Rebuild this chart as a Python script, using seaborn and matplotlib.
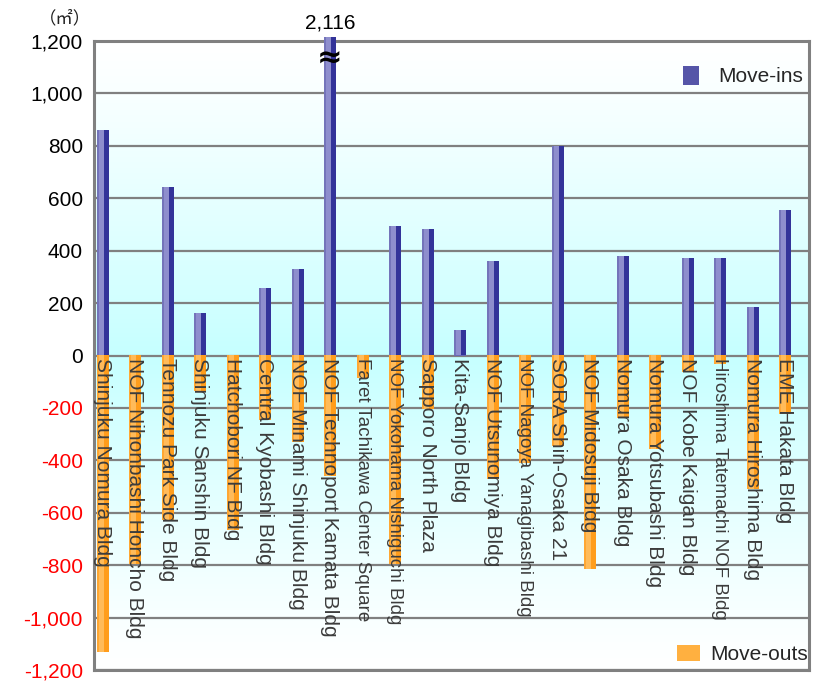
import numpy as np
import pandas as pd
import matplotlib
matplotlib.use("Agg")
import matplotlib.pyplot as plt
import seaborn as sns
from matplotlib.colors import to_rgb
from matplotlib.patches import Patch

# ---------------- data ----------------
buildings = [
    "Shinjuku Nomura Bldg", "NOF Nihonbashi Honcho Bldg", "Tennozu Park Side Bldg",
    "Shinjuku Sanshin Bldg", "Hatchobori NF Bldg", "Central Kyobashi Bldg",
    "NOF Minami Shinjuku Bldg", "NOF Technoport Kamata Bldg", "Faret Tachikawa Center Square",
    "NOF Yokohama Nishiguchi Bldg", "Sapporo North Plaza", "Kita-Sanjo Bldg",
    "NOF Utsunomiya Bldg", "NOF Nagoya Yanagibashi Bldg", "SORA Shin-Osaka 21",
    "NOF Midosuji Bldg", "Nomura Osaka Bldg", "Nomura Yotsubashi Bldg",
    "NOF Kobe Kaigan Bldg", "Hiroshima Tatemachi NOF Bldg", "Nomura Hiroshima Bldg",
    "EME Hakata Bldg",
]
move_ins = [855, 0, 641, 159, 0, 252, 325, 2116, 0, 489, 478, 92,
            355, 0, 795, 0, 374, 0, 367, 367, 183, 550]
move_outs = [-1130, -795, -629, -136, -664, -245, -330, -460, -86, -794, -206, 0,
             -470, -409, -347, -816, -240, -358, -63, -32, -510, -225]
series_names = ["Move-ins", "Move-outs"]
y_ticks = [-1200, -1000, -800, -600, -400, -200, 0, 200, 400, 600, 800, 1000, 1200]
y_tick_labels = ["-1,200", "-1,000", "-800", "-600", "-400", "-200", "0",
                 "200", "400", "600", "800", "1,000", "1,200"]
broken_value_label = "2,116"
unit_label = "（㎡）"

df = pd.DataFrame({"building": buildings, "in": move_ins, "out": move_outs})

# ---------------- style ----------------
sns.set_theme(style="white")
plt.rcParams["font.family"] = ["Liberation Sans", "DejaVu Sans"]

fig = plt.figure(figsize=(8.23, 6.81), dpi=100)
ax = fig.add_axes([94 / 823, 1 - 670 / 681, 715 / 823, 629 / 681])

BLUE_BASE = "#6a6ab4"
ORANGE_BASE = "#ffa733"
blue_grad = ["#7474ba", "#7474ba", "#8e8ecd", "#8e8ecd", "#8e8ecd", "#8e8ecd",
             "#333399", "#333399", "#333399", "#333399"]
orange_grad = ["#ffa733", "#ffa733", "#ffbb5a", "#ffbb5a", "#ffbb5a", "#ffbb5a",
               "#ff9d1c", "#ff9d1c", "#ff9d1c", "#ff9d1c"]

YMIN, YMAX = -1200, 1200

sns.barplot(data=df, x="building", y="in", order=buildings, color=BLUE_BASE,
            width=0.35, errorbar=None, ax=ax, saturation=1)
n_in = len(ax.patches)
sns.barplot(data=df, x="building", y="out", order=buildings, color=ORANGE_BASE,
            width=0.35, errorbar=None, ax=ax, saturation=1)

# gradient fill over each bar (limited to the visible range of the axis)
for k, p in enumerate(ax.patches):
    grad = blue_grad if k < n_in else orange_grad
    arr = np.array([[to_rgb(c) for c in grad]])
    x0, w = p.get_x(), p.get_width()
    y0, h = p.get_y(), p.get_height()
    p.set_zorder(2 if k < n_in else 3)
    p.set_edgecolor("none")
    if h == 0:
        continue
    lo = max(min(y0, y0 + h), YMIN)
    hi = min(max(y0, y0 + h), YMAX + 10)
    ax.imshow(arr, extent=[x0, x0 + w, lo, hi], aspect="auto",
              interpolation="nearest", zorder=p.get_zorder() + 0.1,
              clip_on=False)

# background vertical gradient (white -> cyan at zero -> white)
yy = np.linspace(0, 1, 256)
t = 1 - np.abs(yy - 0.5) / 0.5
top = np.array(to_rgb("#ffffff"))
mid = np.array(to_rgb("#c6ffff"))
bg = top[None, :] + (mid - top)[None, :] * t[:, None] ** 1.2
ax.imshow(bg[:, None, :], extent=[0, 1, 0, 1], transform=ax.transAxes,
          aspect="auto", origin="lower", zorder=-5)

ax.set_xlim(-0.26, len(buildings) - 0.26)
ax.set_ylim(YMIN, YMAX)

# grid & spines
ax.set_axisbelow(True)
ax.yaxis.grid(True, color="#808080", linewidth=1.6)
ax.xaxis.grid(False)
for s in ax.spines.values():
    s.set_color("#808080")
    s.set_linewidth(2.2)
    s.set_zorder(1)

ax.set_yticks(y_ticks)
ax.set_yticklabels(y_tick_labels, fontsize=15)
for lab, v in zip(ax.get_yticklabels(), y_ticks):
    lab.set_color("red" if v < 0 else "black")
ax.tick_params(axis="y", length=0, pad=8)
ax.set_xticks(range(len(buildings)))
ax.set_xticklabels([])
ax.tick_params(axis="x", length=0)
ax.set_xlabel("")
ax.set_ylabel("")

# rotated building labels starting just below zero
for i, name in enumerate(buildings):
    fs = 13.5 if len(name) > 26 else 15
    ax.annotate(name, xy=(i, 0), xytext=(0, -2), textcoords="offset points",
                rotation=270, ha="center", va="top", fontsize=fs,
                color="#3c3c3c", zorder=6)

# broken-bar marker and value
kamata = buildings.index("NOF Technoport Kamata Bldg")
ax.annotate(broken_value_label, xy=(kamata, YMAX), xytext=(0, 9),
            textcoords="offset points", ha="center", va="baseline",
            fontsize=15, color="black", annotation_clip=False)
ax.text(kamata, 1130, "≈", ha="center", va="center", fontsize=22,
        fontweight="bold", color="black", family=["DejaVu Sans"], zorder=7)

# unit label
ax.text(-0.041, 1.036, unit_label, transform=ax.transAxes, ha="center", va="center",
        fontsize=12.5, family=["Noto Sans CJK JP", "DejaVu Sans"], color="#222222")

# legends
leg1 = ax.legend(handles=[Patch(facecolor="#5555a8", edgecolor="none")],
                 labels=[series_names[0]], loc="upper right",
                 bbox_to_anchor=(1.018, 0.99), frameon=False, fontsize=15,
                 handlelength=0.8, handleheight=1.0, handletextpad=0.9)
ax.add_artist(leg1)
ax.legend(handles=[Patch(facecolor="#ffb040", edgecolor="none")],
          labels=[series_names[1]], loc="lower right",
          bbox_to_anchor=(1.025, -0.02), frameon=False, fontsize=15,
          handlelength=1.1, handleheight=0.8, handletextpad=0.5)

fig.savefig("out.png", dpi=100)
